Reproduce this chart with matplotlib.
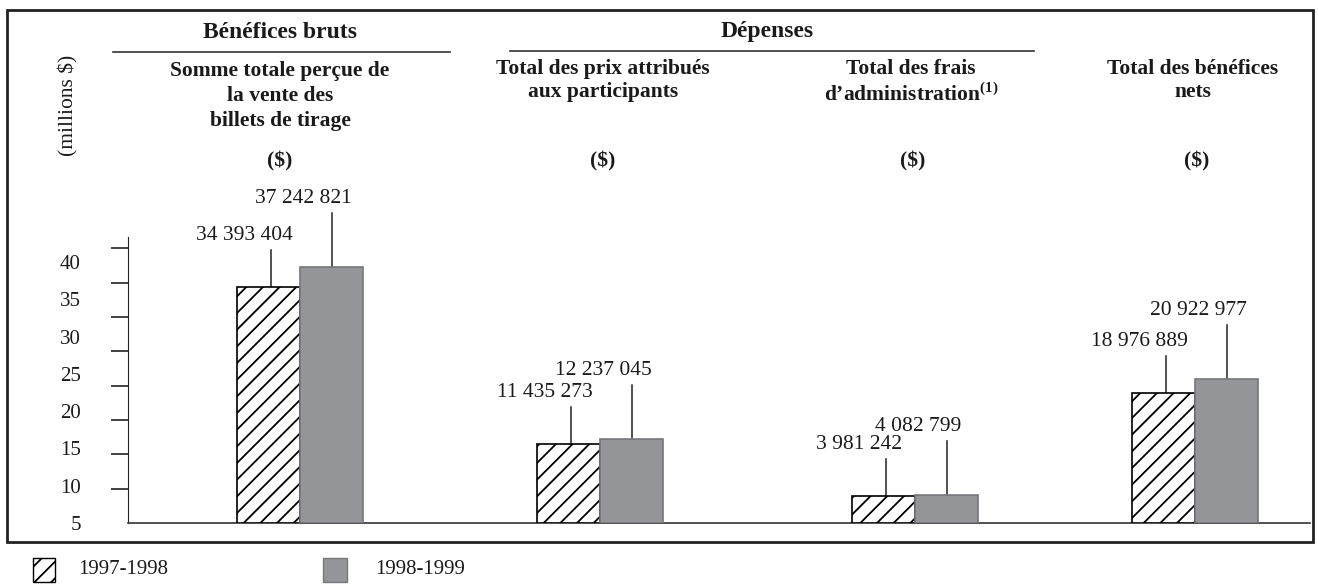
import matplotlib.pyplot as plt
from matplotlib.lines import Line2D
from matplotlib.patches import Rectangle

plt.rcParams['font.family'] = ['Liberation Serif', 'DejaVu Serif']
plt.rcParams['mathtext.fontset'] = 'custom'
plt.rcParams['mathtext.rm'] = 'Liberation Serif'
plt.rcParams['mathtext.bf'] = 'Liberation Serif:bold'
plt.rcParams['hatch.linewidth'] = 1.3

# data (millions $)
years = ['1997-1998', '1998-1999']
vals_9798 = [34.393404, 11.435273, 3.981242, 18.976889]
vals_9899 = [37.242821, 12.237045, 4.082799, 20.922977]
labels_9798 = ['34 393 404', '11 435 273', '3 981 242', '18 976 889']
labels_9899 = ['37 242 821', '12 237 045', '4 082 799', '20 922 977']
tick_labels = ['5', '10', '15', '20', '25', '30', '35', '40']

W, H = 1318, 584
fig = plt.figure(figsize=(W / 100, H / 100), dpi=100)

def fx(x):
    return x / W

def fy(y):
    return 1 - y / H

# plot area in pixel units
x0, x1, y_base, y_top = 128, 1310, 523, 237
px_per_unit = 6.87
ax = fig.add_axes([fx(x0), fy(y_base), fx(x1 - x0), (y_base - y_top) / H])
ax.set_xlim(x0, x1)
ax.set_ylim(0, (y_base - y_top) / px_per_unit)

centers = [300, 600, 915, 1195]
bw = 63
grey = '#939598'
ink = '#1a1a1a'

for i, c in enumerate(centers):
    ax.bar(c - bw / 2, vals_9798[i], width=bw, color='white', edgecolor='black',
           hatch='//', linewidth=1.2, zorder=3)
    ax.bar(c + bw / 2, vals_9899[i], width=bw, color=grey, edgecolor='#77787b',
           linewidth=1.2, zorder=3)
    # value labels with leader lines
    ly1 = vals_9798[i] + 7.5
    ly2 = vals_9899[i] + 10.0
    ax.plot([c - bw / 2 + 2, c - bw / 2 + 2], [vals_9798[i], ly1 - 2.1],
            color='#222222', lw=1.1, clip_on=False, zorder=2)
    ax.plot([c + bw / 2, c + bw / 2], [vals_9899[i], ly2 - 2.1],
            color='#222222', lw=1.1, clip_on=False, zorder=2)
    ax.text(c - bw / 2 - 24, ly1, labels_9798[i], ha='center', va='center',
            fontsize=15.5, color=ink, clip_on=False)
    ax.text(c + bw / 2 - 28, ly2, labels_9899[i], ha='center', va='center',
            fontsize=15.5, color=ink, clip_on=False)

for s in ['top', 'right']:
    ax.spines[s].set_visible(False)
ax.spines['left'].set_color('#222222')
ax.spines['bottom'].set_color('#333333')
ax.spines['bottom'].set_linewidth(1.2)
ax.set_xticks([])
ax.set_yticks(range(5, 45, 5))
ax.set_yticklabels([])
ax.tick_params(axis='y', length=12, width=1.2, color='#222222')

# tick labels (drawn on their own, offset scale as in the original)
ax2 = ax.twinx()
ax2.set_ylim(5, 5 + ax.get_ylim()[1] / 1.085)
ax2.set_yticks(range(5, 45, 5))
ax2.set_yticklabels(tick_labels, fontsize=15, color=ink)
ax2.tick_params(axis='y', length=0, left=False, right=False,
                labelleft=True, labelright=False, pad=34)
for s in ax2.spines.values():
    s.set_visible(False)

# outer frame
fig.add_artist(Rectangle((fx(7), fy(542)), fx(1313 - 7), (542 - 10) / H,
                         transform=fig.transFigure, fill=False,
                         edgecolor='#222222', linewidth=2))

# headers
bold = dict(fontweight='bold', ha='center', va='center', color=ink)
fig.text(fx(280), fy(32), 'Bénéfices bruts', fontsize=17, **bold)
fig.text(fx(767), fy(32), 'Dépenses', fontsize=17, **bold)
fig.add_artist(Line2D([fx(113), fx(450)], [fy(52), fy(52)], color='#333333', lw=1.2))
fig.add_artist(Line2D([fx(510), fx(1034)], [fy(51), fy(51)], color='#333333', lw=1.2))

fig.text(fx(280), fy(61), 'Somme totale perçue de\nla vente des\nbillets de tirage',
         fontsize=15.5, linespacing=1.33, fontweight='bold', ha='center', va='top',
         color=ink)
fig.text(fx(603), fy(59), 'Total des prix attribués\naux participants',
         fontsize=15.5, linespacing=1.22, fontweight='bold', ha='center', va='top',
         color=ink)
fig.text(fx(911), fy(59), 'Total des frais\nd’administration$^{\\mathbf{(1)}}$',
         fontsize=15.5, linespacing=1.22, fontweight='bold', ha='center', va='top',
         color=ink)
fig.text(fx(1193), fy(59), 'Total des bénéfices\nnets',
         fontsize=15.5, linespacing=1.22, fontweight='bold', ha='center', va='top',
         color=ink)
for x in [280, 603, 913, 1197]:
    fig.text(fx(x), fy(161), '($)', fontsize=15.5, **bold)

fig.text(fx(68), fy(105), '(millions $)', rotation=90, fontsize=15.5,
         ha='center', va='center', color=ink)

# legend
fig.add_artist(Rectangle((fx(33), fy(582)), fx(22), 24 / H, transform=fig.transFigure,
                         facecolor='white', edgecolor='black', hatch='//', linewidth=1))
fig.text(fx(78), fy(570), years[0], fontsize=15, va='center', color=ink)
fig.add_artist(Rectangle((fx(323), fy(582)), fx(24), 24 / H, transform=fig.transFigure,
                         facecolor=grey, edgecolor='#77787b', linewidth=1))
fig.text(fx(375), fy(570), years[1], fontsize=15, va='center', color=ink)

fig.savefig('out.png', dpi=100)
